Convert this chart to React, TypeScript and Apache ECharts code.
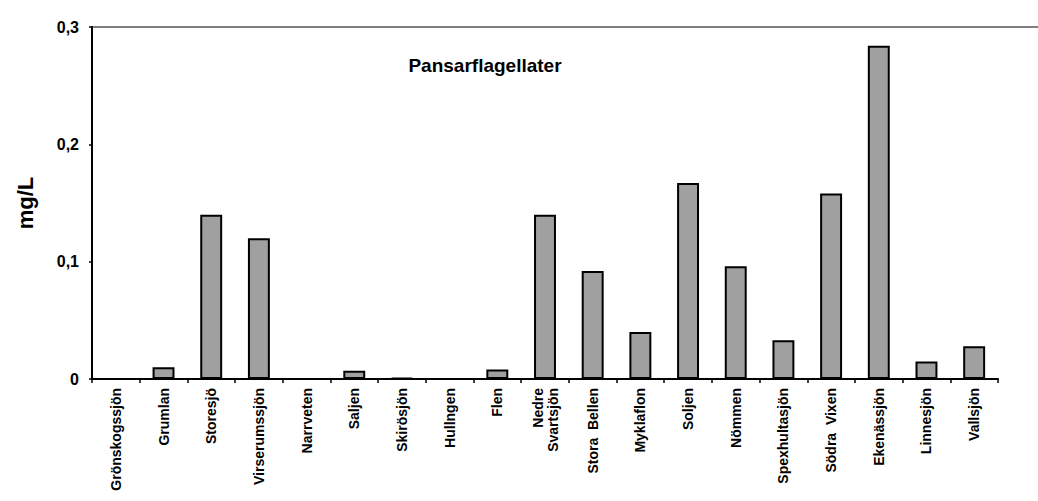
import React, { useEffect, useRef } from "react";
import * as echarts from "echarts";

const categories = [
  "Grönskogssjön",
  "Grumlan",
  "Storesjö",
  "Virserumssjön",
  "Narrveten",
  "Saljen",
  "Skirösjön",
  "Hullngen",
  "Flen",
  "Nedre\nSvartsjön",
  "Stora  Bellen",
  "Myklaflon",
  "Soljen",
  "Nömmen",
  "Spexhultasjön",
  "Södra  Vixen",
  "Ekenässjön",
  "Linnesjön",
  "Vallsjön",
];

const values = [
  0, 0.01, 0.14, 0.12, 0, 0.007, 0.001, 0, 0.008, 0.14, 0.092, 0.04, 0.167,
  0.096, 0.033, 0.158, 0.284, 0.015, 0.028,
];

const yTicks = [0, 0.1, 0.2, 0.3];
const titleText = "Pansarflagellater";
const yName = "mg/L";

export default function App() {
  const ref = useRef<HTMLDivElement>(null);
  useEffect(() => {
    document.body.style.margin = "0";
    const chart = echarts.init(ref.current!, null, { renderer: "svg" });
    const font = "Arial, 'Liberation Sans', Helvetica, sans-serif";
    chart.setOption({
      animation: false,
      backgroundColor: "#ffffff",
      title: {
        text: titleText,
        left: 480,
        top: 51,
        textAlign: "center",
        textStyle: { fontFamily: font, fontSize: 19, fontWeight: "bold", color: "#000" },
      },
      grid: { left: 92, right: 40, top: 27, bottom: 122 },
      xAxis: {
        type: "category",
        data: categories,
        axisLine: { lineStyle: { color: "#000", width: 2 } },
        axisTick: { show: true, length: 4, lineStyle: { color: "#000", width: 1.5 } },
        axisLabel: {
          rotate: 90,
          interval: 0,
          margin: 9,
          fontFamily: font,
          fontSize: 14,
          fontWeight: "bold",
          color: "#000",
          lineHeight: 15,
        },
      },
      yAxis: {
        type: "value",
        min: yTicks[0],
        max: yTicks[yTicks.length - 1],
        interval: 0.1,
        name: yName,
        nameLocation: "middle",
        nameRotate: 90,
        nameGap: 56,
        nameTextStyle: { fontFamily: font, fontSize: 22, fontWeight: "bold", color: "#000" },
        axisLine: { show: true, lineStyle: { color: "#000", width: 2 } },
        axisTick: { show: true, length: 3, lineStyle: { color: "#000", width: 1.5 } },
        splitLine: { show: false },
        axisLabel: {
          margin: 13,
          fontFamily: font,
          fontSize: 16,
          fontWeight: "bold",
          color: "#000",
          formatter: (v: number) => (v === 0 ? "0" : v.toFixed(1).replace(".", ",")),
        },
      },
      graphic: [
        {
          type: "line",
          shape: { x1: 92, y1: 27, x2: 1038, y2: 27 },
          style: { stroke: "#555", lineWidth: 1.5 },
        },
      ],
      series: [
        {
          type: "bar",
          data: values,
          barWidth: "46%",
          itemStyle: { color: "#a0a0a0", borderColor: "#000", borderWidth: 2 },
        },
      ],
    });
    return () => chart.dispose();
  }, []);
  return <div ref={ref} style={{ width: 1038, height: 501 }} />;
}
